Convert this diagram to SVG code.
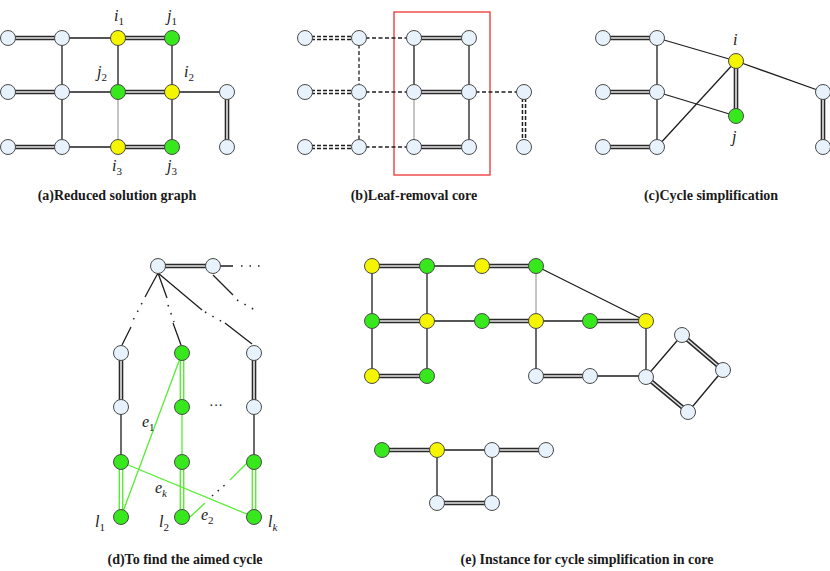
<svg xmlns="http://www.w3.org/2000/svg" width="830" height="571" viewBox="0 0 830 571">
<style>
.n{stroke:#4a4a4a;stroke-width:1;}
.lb{fill:#e8f2fc;}
.ye{fill:#f5f500;}
.gr{fill:#37e81c;}
.s{stroke:#1e1e1e;stroke-width:1.3;fill:none;}
.t{stroke:#8a8a8a;stroke-width:1;fill:none;}
.dO{stroke:#2a2a2a;stroke-width:4.6;fill:none;}
.dI{stroke:#e6e6e6;stroke-width:1.6;fill:none;}
.ds{stroke:#1e1e1e;stroke-width:1.3;stroke-dasharray:4 2.5;fill:none;}
.ddO{stroke:#1e1e1e;stroke-width:4.6;stroke-dasharray:4 2;fill:none;}
.ddI{stroke:#ffffff;stroke-width:1.6;fill:none;}
.g1{stroke:#55ee30;stroke-width:1.3;fill:none;}
.gO{stroke:#55ee30;stroke-width:4.8;fill:none;}
.gI{stroke:#ffffff;stroke-width:2;fill:none;}
.dot{stroke:#1e1e1e;stroke-width:1.5;stroke-dasharray:1.5 7;fill:none;}
.gdot{stroke:#1e1e1e;stroke-width:1.5;stroke-dasharray:1.5 6;fill:none;}
.lab{font-family:"Liberation Serif",serif;font-style:italic;font-size:16px;fill:#1a1a1a;}
.sub{font-size:11px;font-style:normal;}
.cap{font-family:"Liberation Serif",serif;font-weight:bold;font-size:14px;fill:#1a1a1a;text-anchor:middle;}
.red{stroke:#ee3333;stroke-width:1.3;fill:none;}
</style>

<!-- connectors -->
<g id="connectors">
  <!-- panel a -->
  <path class="dO" d="M8,38H62M118,38H172M8,92H62M118,92H172M8,147H62M118,147H172M227,92V147"/>
  <path class="dI" d="M8,38H62M118,38H172M8,92H62M118,92H172M8,147H62M118,147H172M227,92V147"/>
  <path class="s" d="M62,38H118M62,92H118M172,92H227M62,147H118M62,38V147M118,38V92M172,38V147"/>
  <path class="t" d="M118,92V147"/>

  <!-- panel b -->
  <rect class="red" x="394" y="12" width="96" height="163"/>
  <path class="ddO" d="M305,38H359M305,92H359M305,147H359M524,92V147"/>
  <path class="ddI" d="M305,38H359M305,92H359M305,147H359M524,92V147"/>
  <path class="ds" d="M359,38H414M359,92H414M359,147H414M469,92H524M359,38V147"/>
  <path class="dO" d="M414,38H469M414,92H469M414,147H469"/>
  <path class="dI" d="M414,38H469M414,92H469M414,147H469"/>
  <path class="s" d="M414,38V92M469,38V147"/>
  <path class="t" d="M414,92V147"/>

  <!-- panel c -->
  <path class="dO" d="M603,38H657M603,92H657M603,147H657M736,61V116M823,92V147"/>
  <path class="dI" d="M603,38H657M603,92H657M603,147H657M736,61V116M823,92V147"/>
  <path class="s" d="M657,38V147M657,38L736,61M657,92L736,116M657,147L736,61M736,61L823,92"/>

  <!-- panel d -->
  <path class="dO" d="M158,266H213M121,353V407M254,353V407"/>
  <path class="dI" d="M158,266H213M121,353V407M254,353V407"/>
  <path class="s" d="M213,266H233M213,275L233,295M158,273L145,297M131,327L122,345M158,273L167,298M173,323L181,345M158,273L202,310M225,323L252,344M121,407V462M254,407V462"/>
  <path class="dot" d="M241,266H266"/>
  <path class="dot" d="M237,300L255,310"/>
  <path class="dot" d="M142,303L131,324"/>
  <path class="dot" d="M168,305L174,322"/>
  <path class="dot" d="M205,312L226,324"/>
  <path class="gO" d="M121,462V517M182,353V407M182,462V517M254,462V517"/>
  <path class="gI" d="M121,462V517M182,353V407M182,462V517M254,462V517"/>
  <path class="g1" d="M182,407V462M182,353L121,517M121,462L254,517M190,517L205,503M230,480L247,463"/>
  <path class="gdot" d="M212,496L226,484"/>

  <!-- panel e -->
  <path class="dO" d="M372,266H427M482,266H536M372,321H427M482,321H536M590,321H646M372,376H427M536,376H590M682,335L723,370M688,412L646,377M437,450H382M492,450H546M437,503H492"/>
  <path class="dI" d="M372,266H427M482,266H536M372,321H427M482,321H536M590,321H646M372,376H427M536,376H590M682,335L723,370M688,412L646,377M437,450H382M492,450H546M437,503H492"/>
  <path class="s" d="M427,266H482M536,266L646,321M427,321H482M536,321H590M590,376H646M372,266V376M427,266V376M536,321V376M646,321V377M646,377L682,335M723,370L688,412M437,450H492M437,450V503M492,450V503"/>
  <path class="t" d="M536,266V321"/>
</g>

<!-- panel a nodes -->
<g id="a1"><circle class="n lb" cx="8" cy="38" r="7.5"/></g>
<g id="a2"><circle class="n lb" cx="62" cy="38" r="7.5"/></g>
<g id="a3"><circle class="n ye" cx="118" cy="38" r="7.5"/></g>
<g id="a4"><circle class="n gr" cx="172" cy="38" r="7.5"/></g>
<g id="a5"><circle class="n lb" cx="8" cy="92" r="7.5"/></g>
<g id="a6"><circle class="n lb" cx="62" cy="92" r="7.5"/></g>
<g id="a7"><circle class="n gr" cx="118" cy="92" r="7.5"/></g>
<g id="a8"><circle class="n ye" cx="172" cy="92" r="7.5"/></g>
<g id="a9"><circle class="n lb" cx="227" cy="92" r="7.5"/></g>
<g id="a10"><circle class="n lb" cx="8" cy="147" r="7.5"/></g>
<g id="a11"><circle class="n lb" cx="62" cy="147" r="7.5"/></g>
<g id="a12"><circle class="n ye" cx="118" cy="147" r="7.5"/></g>
<g id="a13"><circle class="n gr" cx="172" cy="147" r="7.5"/></g>
<g id="a14"><circle class="n lb" cx="227" cy="147" r="7.5"/></g>
<g id="a-labels">
  <text class="lab" x="114" y="21">i<tspan class="sub" dy="4">1</tspan></text>
  <text class="lab" x="167" y="21">j<tspan class="sub" dy="4">1</tspan></text>
  <text class="lab" x="97" y="77">j<tspan class="sub" dy="4">2</tspan></text>
  <text class="lab" x="184" y="77">i<tspan class="sub" dy="4">2</tspan></text>
  <text class="lab" x="112" y="171">i<tspan class="sub" dy="4">3</tspan></text>
  <text class="lab" x="167" y="171">j<tspan class="sub" dy="4">3</tspan></text>
  <text class="cap" x="117" y="200">(a)Reduced solution graph</text>
</g>

<!-- panel b nodes -->
<g id="b1"><circle class="n lb" cx="305" cy="38" r="7.5"/></g>
<g id="b2"><circle class="n lb" cx="359" cy="38" r="7.5"/></g>
<g id="b3"><circle class="n lb" cx="414" cy="38" r="7.5"/></g>
<g id="b4"><circle class="n lb" cx="469" cy="38" r="7.5"/></g>
<g id="b5"><circle class="n lb" cx="305" cy="92" r="7.5"/></g>
<g id="b6"><circle class="n lb" cx="359" cy="92" r="7.5"/></g>
<g id="b7"><circle class="n lb" cx="414" cy="92" r="7.5"/></g>
<g id="b8"><circle class="n lb" cx="469" cy="92" r="7.5"/></g>
<g id="b9"><circle class="n lb" cx="524" cy="92" r="7.5"/></g>
<g id="b10"><circle class="n lb" cx="305" cy="147" r="7.5"/></g>
<g id="b11"><circle class="n lb" cx="359" cy="147" r="7.5"/></g>
<g id="b12"><circle class="n lb" cx="414" cy="147" r="7.5"/></g>
<g id="b13"><circle class="n lb" cx="469" cy="147" r="7.5"/></g>
<g id="b14"><circle class="n lb" cx="524" cy="147" r="7.5"/></g>
<g id="b-labels"><text class="cap" x="414" y="200">(b)Leaf-removal core</text></g>

<!-- panel c nodes -->
<g id="c1"><circle class="n lb" cx="603" cy="38" r="7.5"/></g>
<g id="c2"><circle class="n lb" cx="657" cy="38" r="7.5"/></g>
<g id="c3"><circle class="n lb" cx="603" cy="92" r="7.5"/></g>
<g id="c4"><circle class="n lb" cx="657" cy="92" r="7.5"/></g>
<g id="c5"><circle class="n lb" cx="603" cy="147" r="7.5"/></g>
<g id="c6"><circle class="n lb" cx="657" cy="147" r="7.5"/></g>
<g id="c-i"><circle class="n ye" cx="736" cy="61" r="7.5"/><text class="lab" x="733" y="45">i</text></g>
<g id="c-j"><circle class="n gr" cx="736" cy="116" r="7.5"/><text class="lab" x="732" y="142">j</text></g>
<g id="c7"><circle class="n lb" cx="823" cy="92" r="7.5"/></g>
<g id="c8"><circle class="n lb" cx="823" cy="147" r="7.5"/></g>
<g id="c-labels"><text class="cap" x="711" y="200">(c)Cycle simplification</text></g>

<!-- panel d nodes -->
<g id="d0"><circle class="n lb" cx="158" cy="266" r="7.5"/></g>
<g id="d00"><circle class="n lb" cx="213" cy="266" r="7.5"/></g>
<g id="d11"><circle class="n lb" cx="121" cy="353" r="7.5"/></g>
<g id="d12"><circle class="n lb" cx="121" cy="407" r="7.5"/></g>
<g id="d13"><circle class="n gr" cx="121" cy="462" r="7.5"/></g>
<g id="d14"><circle class="n gr" cx="121" cy="517" r="7.5"/><text class="lab" x="95" y="527">l<tspan class="sub" dy="4">1</tspan></text></g>
<g id="d21"><circle class="n gr" cx="182" cy="353" r="7.5"/></g>
<g id="d22"><circle class="n gr" cx="182" cy="407" r="7.5"/></g>
<g id="d23"><circle class="n gr" cx="182" cy="462" r="7.5"/></g>
<g id="d24"><circle class="n gr" cx="182" cy="517" r="7.5"/><text class="lab" x="159" y="527">l<tspan class="sub" dy="4">2</tspan></text></g>
<g id="d31"><circle class="n lb" cx="254" cy="353" r="7.5"/></g>
<g id="d32"><circle class="n lb" cx="254" cy="407" r="7.5"/></g>
<g id="d33"><circle class="n gr" cx="254" cy="462" r="7.5"/></g>
<g id="d34"><circle class="n gr" cx="254" cy="517" r="7.5"/><text class="lab" x="268" y="527">l<tspan class="sub" dy="4" style="font-style:italic">k</tspan></text></g>
<g id="d-labels">
  <text class="lab" x="142" y="427">e<tspan class="sub" dy="4">1</tspan></text>
  <text class="lab" x="155" y="493">e<tspan class="sub" dy="4" style="font-style:italic">k</tspan></text>
  <text class="lab" x="201" y="520">e<tspan class="sub" dy="4">2</tspan></text>
  <text style="font-family:'Liberation Serif',serif;font-size:14px;fill:#1a1a1a" x="209" y="410">···</text>
  <text class="cap" x="185" y="564">(d)To find the aimed cycle</text>
</g>

<!-- panel e nodes -->
<g id="e1"><circle class="n ye" cx="372" cy="266" r="7.5"/></g>
<g id="e2"><circle class="n gr" cx="427" cy="266" r="7.5"/></g>
<g id="e3"><circle class="n ye" cx="482" cy="266" r="7.5"/></g>
<g id="e4"><circle class="n gr" cx="536" cy="266" r="7.5"/></g>
<g id="e5"><circle class="n gr" cx="372" cy="321" r="7.5"/></g>
<g id="e6"><circle class="n ye" cx="427" cy="321" r="7.5"/></g>
<g id="e7"><circle class="n gr" cx="482" cy="321" r="7.5"/></g>
<g id="e8"><circle class="n ye" cx="536" cy="321" r="7.5"/></g>
<g id="e9"><circle class="n gr" cx="590" cy="321" r="7.5"/></g>
<g id="e10"><circle class="n ye" cx="646" cy="321" r="7.5"/></g>
<g id="e11"><circle class="n ye" cx="372" cy="376" r="7.5"/></g>
<g id="e12"><circle class="n gr" cx="427" cy="376" r="7.5"/></g>
<g id="e13"><circle class="n lb" cx="536" cy="376" r="7.5"/></g>
<g id="e14"><circle class="n lb" cx="590" cy="376" r="7.5"/></g>
<g id="e15"><circle class="n lb" cx="646" cy="377" r="7.5"/></g>
<g id="e16"><circle class="n lb" cx="682" cy="335" r="7.5"/></g>
<g id="e17"><circle class="n lb" cx="723" cy="370" r="7.5"/></g>
<g id="e18"><circle class="n lb" cx="688" cy="412" r="7.5"/></g>
<g id="e19"><circle class="n gr" cx="382" cy="450" r="7.5"/></g>
<g id="e20"><circle class="n ye" cx="437" cy="450" r="7.5"/></g>
<g id="e21"><circle class="n lb" cx="492" cy="450" r="7.5"/></g>
<g id="e22"><circle class="n lb" cx="546" cy="450" r="7.5"/></g>
<g id="e23"><circle class="n lb" cx="437" cy="503" r="7.5"/></g>
<g id="e24"><circle class="n lb" cx="492" cy="503" r="7.5"/></g>
<g id="e-labels"><text class="cap" x="587" y="564">(e) Instance for cycle simplification in core</text></g>
</svg>
